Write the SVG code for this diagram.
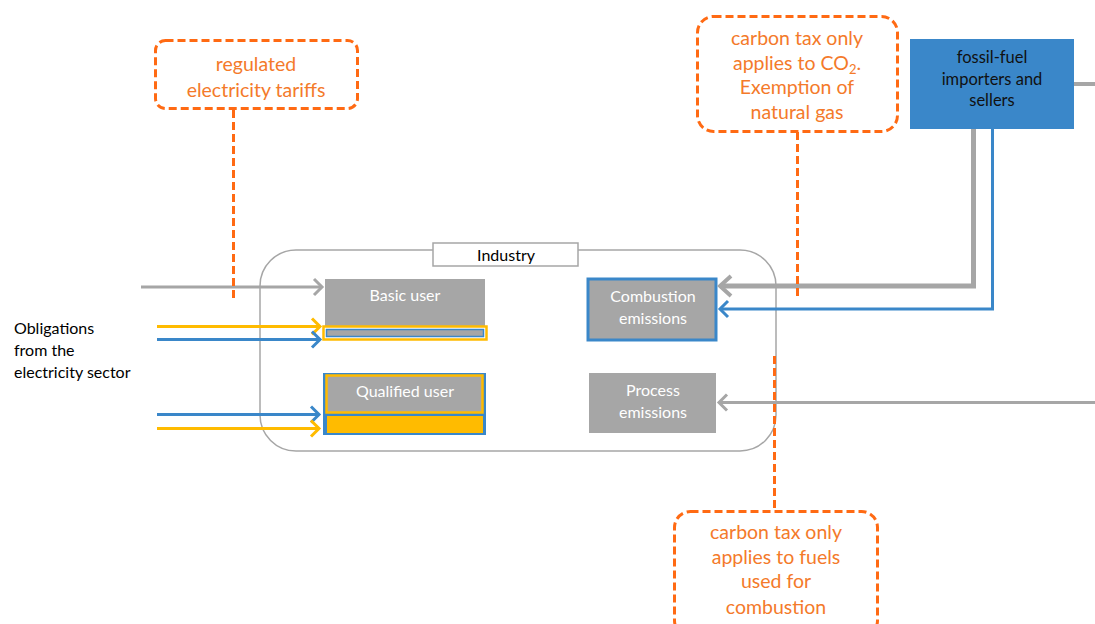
<svg xmlns="http://www.w3.org/2000/svg" width="1095" height="624" viewBox="0 0 1095 624">
<defs>
<style>
text{font-family:Lato,"Open Sans","Liberation Sans",sans-serif}
.box{fill:#A6A6A6}
.wt{fill:#FFFFFF;font-size:16px;text-anchor:middle}
.ot{fill:#F47A2A;font-size:19.5px;text-anchor:middle}
.call{fill:none;stroke:#FF6A13;stroke-width:3;stroke-dasharray:8 4}
.g{stroke:#A6A6A6;stroke-width:3;fill:none}
.y{stroke:#FFBB00;stroke-width:3;fill:none}
.b{stroke:#3A87C9;stroke-width:3;fill:none}
</style>
<marker id="ag" markerUnits="userSpaceOnUse" markerWidth="20" markerHeight="20" refX="12" refY="10" orient="auto"><path d="M4,2 L12,10 L4,18" fill="none" stroke="#A6A6A6" stroke-width="3"/></marker>
<marker id="agL" markerUnits="userSpaceOnUse" markerWidth="26" markerHeight="26" refX="16" refY="13" orient="auto"><path d="M5,3 L16,13 L5,23" fill="none" stroke="#A6A6A6" stroke-width="4"/></marker>
<marker id="ay" markerUnits="userSpaceOnUse" markerWidth="20" markerHeight="20" refX="12" refY="10" orient="auto"><path d="M4,2 L12,10 L4,18" fill="none" stroke="#FFBB00" stroke-width="3"/></marker>
<marker id="ab" markerUnits="userSpaceOnUse" markerWidth="20" markerHeight="20" refX="12" refY="10" orient="auto"><path d="M4,2 L12,10 L4,18" fill="none" stroke="#3A87C9" stroke-width="3"/></marker>
</defs>
<rect width="1095" height="624" fill="#FFFFFF"/>

<g id="industry">
<rect x="260" y="250" width="516" height="201" rx="36" fill="none" stroke="#A6A6A6" stroke-width="1.5"/>
<rect x="433" y="243" width="145" height="23" fill="#FFFFFF" stroke="#A6A6A6" stroke-width="1.5"/>
<text x="506" y="261" font-size="16" text-anchor="middle" fill="#000000">Industry</text>
</g>

<g id="basic-user">
<rect class="box" x="325" y="279" width="160" height="47"/>
<text class="wt" x="405" y="301">Basic user</text>
<rect x="323.5" y="326.5" width="163" height="13" fill="none" stroke="#FFBB00" stroke-width="2.5"/>
<rect x="326.5" y="329.5" width="157" height="7" fill="#A6A6A6" stroke="#3A87C9" stroke-width="1.5"/>
</g>

<g id="qualified-user">
<rect x="323" y="373" width="163" height="62" fill="#3A87C9"/>
<rect x="326.5" y="375.5" width="156" height="37" fill="#A6A6A6" stroke="#FFBB00" stroke-width="2.5"/>
<rect x="327" y="416" width="156" height="17" fill="#FFBB00"/>
<text class="wt" x="405" y="397">Qualified user</text>
</g>

<g id="combustion">
<rect class="box" x="588" y="279" width="128" height="61" stroke="#3A87C9" stroke-width="3"/>
<text class="wt" x="653" y="302">Combustion</text>
<text class="wt" x="653" y="324">emissions</text>
</g>

<g id="process">
<rect class="box" x="589" y="373" width="127" height="60"/>
<text class="wt" x="653" y="396">Process</text>
<text class="wt" x="653" y="418">emissions</text>
</g>

<g id="fossil">
<rect x="910" y="39" width="164" height="90" fill="#3A87C9"/>
<text x="992" y="63" font-size="16.5" text-anchor="middle" fill="#111111">fossil-fuel</text>
<text x="992" y="85" font-size="16.5" text-anchor="middle" fill="#111111">importers and</text>
<text x="992" y="106" font-size="16.5" text-anchor="middle" fill="#111111">sellers</text>
</g>

<g id="obligations">
<text x="14" y="334" font-size="16" fill="#000000">Obligations</text>
<text x="14" y="356" font-size="16" fill="#000000">from the</text>
<text x="14" y="378" font-size="16" fill="#000000">electricity sector</text>
</g>

<g id="connectors">
<line class="g" x1="141" y1="287" x2="322" y2="287" marker-end="url(#ag)"/>
<line class="y" x1="157" y1="326.5" x2="320" y2="326.5" marker-end="url(#ay)"/>
<line class="b" x1="157" y1="339.5" x2="320" y2="339.5" marker-end="url(#ab)"/>
<line class="b" x1="157" y1="414.5" x2="319" y2="414.5" marker-end="url(#ab)"/>
<line class="y" x1="157" y1="428.5" x2="319" y2="428.5" marker-end="url(#ay)"/>
<polyline points="973.5,129 973.5,286 720,286" fill="none" stroke="#A6A6A6" stroke-width="5" marker-end="url(#agL)"/>
<polyline class="b" points="992.5,129 992.5,309 720,309" marker-end="url(#ab)"/>
<line x1="1074" y1="84" x2="1095" y2="84" stroke="#A6A6A6" stroke-width="4"/>
<line class="g" x1="1095" y1="402.5" x2="719" y2="402.5" marker-end="url(#ag)"/>
<line class="call" x1="233.5" y1="110" x2="233.5" y2="301"/>
<line class="call" x1="797.5" y1="132" x2="797.5" y2="300"/>
<line class="call" x1="774.5" y1="356" x2="774.5" y2="511"/>
</g>

<g id="callout-tariffs">
<rect class="call" x="155.5" y="40.5" width="202" height="68" rx="10"/>
<text class="ot" x="256" y="71">regulated</text>
<text class="ot" x="256" y="97">electricity tariffs</text>
</g>

<g id="callout-co2">
<rect class="call" x="697.5" y="16.5" width="200" height="115" rx="16"/>
<text class="ot" x="797" y="45">carbon tax only</text>
<text class="ot" x="797" y="70">applies to CO<tspan font-size="13" dy="4">2</tspan><tspan dy="-4">.</tspan></text>
<text class="ot" x="797" y="94">Exemption of</text>
<text class="ot" x="797" y="119">natural gas</text>
</g>

<g id="callout-combustion">
<rect class="call" x="674.5" y="511.5" width="203" height="125" rx="16"/>
<text class="ot" x="776" y="539">carbon tax only</text>
<text class="ot" x="776" y="564">applies to fuels</text>
<text class="ot" x="776" y="588">used for</text>
<text class="ot" x="776" y="614">combustion</text>
</g>
</svg>
